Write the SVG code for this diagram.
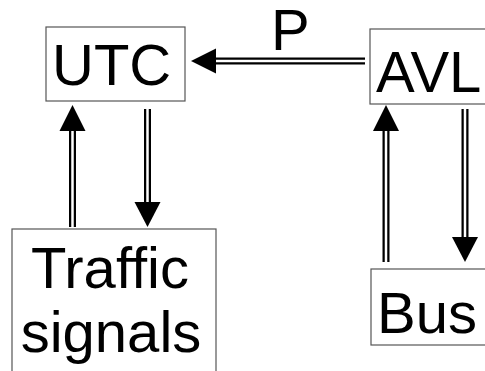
<svg xmlns="http://www.w3.org/2000/svg" width="485" height="371" viewBox="0 0 485 371">
  <style>
    .box { fill: #fff; stroke: #555; stroke-width: 1.2; }
    .lbl { font-family: "Liberation Sans", Arial, sans-serif; font-size: 58px; fill: #000; }
    .mid { text-anchor: middle; }
    .outer { stroke: #000; stroke-width: 7; fill: none; }
    .inner { stroke: #fff; stroke-width: 2.5; fill: none; }
    .head { fill: #000; }
  </style>
  <rect width="485" height="371" fill="#fff"/>

  <g id="utc">
    <rect class="box" x="46" y="27" width="139" height="74"/>
    <text class="lbl" x="52" y="85">UTC</text>
  </g>

  <g id="avl">
    <rect class="box" x="370" y="29" width="130" height="75"/>
    <text class="lbl" x="376" y="92">AVL</text>
  </g>

  <g id="traffic-signals">
    <rect class="box" x="12" y="229" width="204" height="160"/>
    <text class="lbl mid" x="110" y="288">Traffic</text>
    <text class="lbl mid" x="111" y="352">signals</text>
  </g>

  <g id="bus">
    <rect class="box" x="371" y="269" width="130" height="76"/>
    <text class="lbl" x="377" y="333">Bus</text>
  </g>

  <g id="connectors">
    <!-- AVL to UTC, labelled P -->
    <line class="outer" x1="215" y1="61" x2="365" y2="61"/>
    <line class="inner" x1="214" y1="61" x2="366" y2="61"/>
    <polygon class="head" points="191,61 216,48.5 216,73.5"/>
    <text class="lbl" x="271" y="50">P</text>

    <!-- Traffic signals up to UTC -->
    <line class="outer" x1="72.5" y1="130" x2="72.5" y2="227"/>
    <line class="inner" x1="72.5" y1="129" x2="72.5" y2="228"/>
    <polygon class="head" points="72.5,105 59.5,131 85.5,131"/>

    <!-- UTC down to Traffic signals -->
    <line class="outer" x1="147.5" y1="109" x2="147.5" y2="203"/>
    <line class="inner" x1="147.5" y1="108" x2="147.5" y2="204"/>
    <polygon class="head" points="147.5,227 134.5,202 160.5,202"/>

    <!-- Bus up to AVL -->
    <line class="outer" x1="386" y1="130" x2="386" y2="262"/>
    <line class="inner" x1="386" y1="129" x2="386" y2="263"/>
    <polygon class="head" points="386,105 373,131 399,131"/>

    <!-- AVL down to Bus -->
    <line class="outer" x1="465" y1="109" x2="465" y2="238"/>
    <line class="inner" x1="465" y1="108" x2="465" y2="239"/>
    <polygon class="head" points="465,262 452,237 478,237"/>
  </g>
</svg>
